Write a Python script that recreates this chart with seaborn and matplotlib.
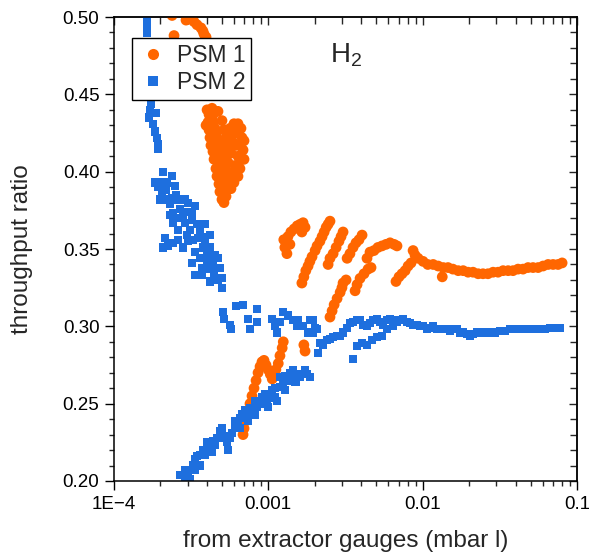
import numpy as np
import pandas as pd
import matplotlib
matplotlib.use("Agg")
import matplotlib.pyplot as plt
from matplotlib.lines import Line2D
from matplotlib.ticker import (MultipleLocator, FixedLocator, FixedFormatter,
                               LogLocator, NullFormatter, FormatStrFormatter)
import seaborn as sns

# ---------------------------------------------------------------------------
# Throughput ratio vs. flow measured by the extractor gauges (H2)
# ---------------------------------------------------------------------------

# PSM 1 -- near-vertical clusters at low flow
psm1_top_x = [2.38e-4, 2.45e-4, 2.93e-4, 3.11e-4, 3.30e-4, 3.45e-4, 3.66e-4, 3.77e-4, 3.83e-4, 3.95e-4]
psm1_top_y = [0.501, 0.488, 0.498, 0.499, 0.497, 0.495, 0.493, 0.491, 0.489, 0.487]

psm1_a_x = [4.32e-4, 4.13e-4, 4.45e-4, 4.07e-4, 4.38e-4, 4.13e-4, 4.51e-4, 4.19e-4, 4.58e-4, 4.25e-4,
            4.65e-4, 4.38e-4, 4.72e-4, 4.45e-4, 4.79e-4, 4.58e-4, 4.94e-4, 4.65e-4, 5.01e-4, 4.79e-4,
            5.16e-4, 4.86e-4, 5.09e-4, 5.01e-4, 5.16e-4,
            5.65e-4, 5.99e-4, 6.36e-4, 6.65e-4, 5.56e-4, 6.17e-4, 6.75e-4, 5.40e-4, 5.90e-4, 6.55e-4,
            6.86e-4, 5.24e-4, 5.73e-4, 6.36e-4, 6.75e-4, 5.48e-4, 6.08e-4, 6.55e-4, 5.32e-4, 5.82e-4,
            6.36e-4, 5.56e-4, 5.99e-4,
            4.72e-4, 5.01e-4, 5.16e-4, 4.94e-4, 5.32e-4, 5.09e-4, 5.48e-4, 4.86e-4, 5.24e-4, 5.01e-4,
            5.32e-4, 4.32e-4, 4.01e-4, 3.95e-4, 5.90e-4, 6.96e-4, 6.96e-4, 6.17e-4, 5.73e-4, 5.32e-4]
psm1_a_y = [0.441, 0.437, 0.438, 0.432, 0.432, 0.427, 0.428, 0.422, 0.424, 0.417,
            0.419, 0.413, 0.414, 0.408, 0.409, 0.402, 0.404, 0.397, 0.399, 0.392,
            0.395, 0.387, 0.388, 0.382, 0.380,
            0.428, 0.431, 0.431, 0.428, 0.422, 0.425, 0.422, 0.416, 0.419, 0.417,
            0.414, 0.411, 0.412, 0.410, 0.408, 0.406, 0.404, 0.402, 0.401, 0.399,
            0.397, 0.395, 0.393,
            0.439, 0.433, 0.427, 0.420, 0.422, 0.414, 0.413, 0.409, 0.406, 0.395,
            0.391, 0.435, 0.440, 0.430, 0.428, 0.420, 0.408, 0.417, 0.389, 0.384]

# PSM 1 -- rising branch below 0.29
psm1_b_x = [6.86e-4, 6.96e-4, 7.17e-4, 7.39e-4, 7.61e-4, 7.84e-4, 8.08e-4, 8.33e-4, 8.58e-4, 8.84e-4,
            9.10e-4, 9.38e-4, 9.66e-4, 9.96e-4, 1.03e-3, 1.06e-3, 1.09e-3, 1.12e-3, 1.16e-3, 1.19e-3,
            1.23e-3, 1.25e-3, 1.70e-3, 1.73e-3]
psm1_b_y = [0.230, 0.234, 0.239, 0.245, 0.250, 0.255, 0.260, 0.265, 0.270, 0.274,
            0.277, 0.278, 0.275, 0.272, 0.269, 0.266, 0.268, 0.272, 0.276, 0.281,
            0.286, 0.290, 0.288, 0.284]

# PSM 1 -- sawtooth region between 1e-3 and 1e-2
psm1_c_x = [1.26e-3, 1.28e-3, 1.32e-3, 1.34e-3, 1.40e-3, 1.47e-3, 1.54e-3, 1.61e-3, 1.68e-3, 1.73e-3, 1.65e-3, 1.38e-3,
            1.65e-3, 1.70e-3, 1.75e-3, 1.81e-3, 1.86e-3, 1.92e-3, 2.01e-3, 2.07e-3, 2.16e-3, 2.23e-3, 2.30e-3, 2.37e-3, 2.44e-3, 2.51e-3,
            2.44e-3, 2.51e-3, 2.63e-3, 2.75e-3, 2.87e-3, 2.96e-3, 3.05e-3,
            3.24e-3, 3.38e-3, 3.54e-3, 3.70e-3, 3.87e-3, 4.05e-3,
            4.36e-3, 4.56e-3, 4.84e-3, 5.13e-3, 5.45e-3, 5.79e-3, 6.15e-3, 6.53e-3, 6.82e-3,
            2.51e-3, 2.59e-3, 2.67e-3, 2.79e-3, 2.92e-3, 3.05e-3, 3.19e-3, 3.00e-3, 3.65e-3, 3.76e-3, 3.93e-3, 4.17e-3, 4.43e-3, 4.63e-3,
            6.72e-3, 7.03e-3, 7.35e-3, 7.70e-3, 8.05e-3, 8.41e-3, 8.67e-3, 8.93e-3]
psm1_c_y = [0.356, 0.351, 0.347, 0.358, 0.361, 0.363, 0.365, 0.366, 0.367, 0.364, 0.361, 0.353,
            0.328, 0.332, 0.336, 0.339, 0.342, 0.345, 0.349, 0.352, 0.355, 0.358, 0.361, 0.364, 0.366, 0.368,
            0.340, 0.344, 0.347, 0.351, 0.355, 0.358, 0.361,
            0.344, 0.347, 0.351, 0.354, 0.356, 0.359,
            0.344, 0.348, 0.349, 0.351, 0.352, 0.353, 0.354, 0.353, 0.352,
            0.306, 0.310, 0.314, 0.318, 0.322, 0.328, 0.330, 0.325, 0.323, 0.327, 0.331, 0.334, 0.337, 0.338,
            0.329, 0.332, 0.334, 0.336, 0.339, 0.341, 0.349, 0.346]

# PSM 1 -- plateau at high flow
psm1_d_x = [9.34e-3, 1.006e-2, 1.08e-2, 1.17e-2, 1.26e-2, 1.36e-2, 1.34e-2, 1.46e-2, 1.57e-2, 1.70e-2,
            1.83e-2, 1.97e-2, 2.12e-2, 2.29e-2, 2.46e-2, 2.65e-2, 2.86e-2, 3.08e-2, 3.32e-2, 3.58e-2,
            3.85e-2, 4.15e-2, 4.47e-2, 4.82e-2, 5.19e-2, 5.60e-2, 6.03e-2, 6.50e-2, 7.00e-2, 7.54e-2, 8.01e-2]
psm1_d_y = [0.344, 0.342, 0.340, 0.340, 0.339, 0.338, 0.332, 0.338, 0.337, 0.336,
            0.336, 0.335, 0.335, 0.334, 0.334, 0.334, 0.335, 0.335, 0.336, 0.336,
            0.336, 0.337, 0.337, 0.338, 0.338, 0.338, 0.339, 0.340, 0.340, 0.340, 0.341]

# PSM 2 -- steep column at the lowest flows
psm2_a_x = [1.64e-4, 1.64e-4, 1.64e-4, 1.66e-4, 1.69e-4, 1.71e-4, 1.74e-4, 1.71e-4, 1.69e-4, 1.87e-4,
            1.79e-4, 1.84e-4, 1.90e-4, 1.93e-4, 1.93e-4]
psm2_a_y = [0.498, 0.494, 0.490, 0.479, 0.466, 0.453, 0.444, 0.440, 0.435, 0.438,
            0.431, 0.426, 0.422, 0.418, 0.415]

# PSM 2 -- scattered cluster between 0.33 and 0.40
psm2_b_x = [1.84e-4, 2.08e-4, 2.38e-4, 1.99e-4, 2.05e-4, 1.99e-4, 2.14e-4, 2.31e-4, 2.38e-4, 2.68e-4,
            3.02e-4, 3.20e-4, 2.41e-4, 2.31e-4, 2.80e-4, 2.89e-4, 2.41e-4, 3.20e-4, 3.11e-4, 3.61e-4,
            3.89e-4, 4.19e-4, 2.14e-4, 2.08e-4, 2.41e-4, 2.80e-4, 3.25e-4, 3.77e-4, 3.35e-4, 4.01e-4,
            4.51e-4, 4.19e-4, 3.20e-4, 4.01e-4, 4.32e-4, 4.86e-4, 3.35e-4, 3.72e-4, 4.19e-4, 5.01e-4,
            5.01e-4, 4.65e-4, 3.61e-4, 2.97e-4, 2.60e-4, 2.17e-4, 2.52e-4, 2.89e-4, 3.50e-4, 3.95e-4,
            4.45e-4,
            1.93e-4, 2.21e-4, 2.48e-4, 2.60e-4, 2.89e-4, 3.35e-4, 2.60e-4, 3.45e-4, 3.89e-4, 2.24e-4,
            2.60e-4, 3.02e-4, 3.89e-4, 4.38e-4, 4.72e-4, 4.72e-4, 3.72e-4]
psm2_b_y = [0.393, 0.400, 0.397, 0.393, 0.386, 0.382, 0.382, 0.379, 0.383, 0.376,
            0.380, 0.374, 0.373, 0.372, 0.371, 0.367, 0.367, 0.369, 0.362, 0.362,
            0.358, 0.359, 0.357, 0.351, 0.354, 0.351, 0.356, 0.351, 0.348, 0.346,
            0.346, 0.351, 0.341, 0.341, 0.338, 0.338, 0.333, 0.333, 0.329, 0.331,
            0.325, 0.338, 0.344, 0.359, 0.362, 0.388, 0.385, 0.374, 0.357, 0.337,
            0.333,
            0.390, 0.393, 0.391, 0.382, 0.382, 0.378, 0.370, 0.366, 0.366, 0.352,
            0.356, 0.355, 0.353, 0.342, 0.344, 0.330, 0.338]

# PSM 2 -- points around 0.30 between 5e-4 and 2e-3
psm2_c_x = [5.09e-4, 5.16e-4, 5.65e-4, 5.73e-4, 6.17e-4, 6.86e-4, 7.39e-4, 7.61e-4, 8.45e-4, 8.45e-4,
            1.06e-3, 1.14e-3, 1.10e-3, 1.25e-3, 1.34e-3, 1.45e-3, 1.54e-3, 1.56e-3, 1.68e-3, 1.81e-3,
            1.86e-3, 1.95e-3, 2.01e-3, 2.07e-3, 1.95e-3, 1.19e-3, 2.10e-3]
psm2_c_y = [0.309, 0.305, 0.301, 0.298, 0.313, 0.314, 0.305, 0.298, 0.311, 0.303,
            0.305, 0.296, 0.300, 0.309, 0.307, 0.304, 0.300, 0.304, 0.300, 0.296,
            0.304, 0.304, 0.299, 0.298, 0.296, 0.303, 0.283]

# PSM 2 -- band rising to the 0.30 plateau
psm2_d_x = [2.16e-3, 2.26e-3, 2.40e-3, 2.51e-3, 2.63e-3, 2.79e-3, 2.92e-3, 3.05e-3, 3.24e-3, 3.38e-3,
            3.54e-3, 3.76e-3, 3.93e-3, 4.11e-3, 4.36e-3, 4.56e-3, 4.77e-3, 5.06e-3, 5.30e-3, 5.54e-3,
            5.88e-3, 6.15e-3, 6.43e-3, 6.82e-3, 7.14e-3, 7.46e-3, 7.96e-3, 8.29e-3, 8.67e-3, 9.20e-3,
            9.62e-3, 1.006e-2, 1.07e-2, 1.12e-2, 1.17e-2, 1.24e-2, 1.30e-2, 1.36e-2, 1.44e-2, 1.50e-2,
            1.57e-2, 1.67e-2, 1.75e-2, 1.83e-2, 1.94e-2, 2.03e-2, 2.12e-2, 2.25e-2, 2.35e-2, 2.46e-2,
            2.61e-2, 2.73e-2, 2.94e-2, 3.17e-2, 3.42e-2, 3.69e-2, 3.97e-2, 4.28e-2, 4.61e-2, 4.97e-2,
            5.35e-2, 5.77e-2, 6.21e-2, 6.69e-2, 7.21e-2, 7.77e-2,
            3.54e-3, 3.76e-3, 4.05e-3, 4.36e-3, 4.70e-3, 5.06e-3, 5.45e-3, 5.88e-3, 6.43e-3]
psm2_d_y = [0.289, 0.288, 0.291, 0.292, 0.293, 0.294, 0.294, 0.296, 0.299, 0.302,
            0.303, 0.304, 0.304, 0.301, 0.300, 0.302, 0.304, 0.305, 0.303, 0.301,
            0.304, 0.305, 0.304, 0.303, 0.304, 0.305, 0.303, 0.302, 0.301, 0.301,
            0.300, 0.300, 0.298, 0.299, 0.300, 0.298, 0.298, 0.298, 0.298, 0.297,
            0.298, 0.298, 0.296, 0.296, 0.295, 0.294, 0.295, 0.296, 0.296, 0.296,
            0.296, 0.296, 0.296, 0.297, 0.297, 0.298, 0.298, 0.298, 0.298, 0.298,
            0.298, 0.298, 0.298, 0.299, 0.299, 0.299,
            0.279, 0.287, 0.289, 0.288, 0.291, 0.293, 0.294, 0.298, 0.300]

# PSM 2 -- lower branch climbing from 0.20
psm2_e_x = [2.68e-4, 2.89e-4, 3.11e-4, 3.02e-4, 3.25e-4, 3.35e-4, 3.45e-4, 3.61e-4, 3.77e-4, 4.01e-4,
            4.19e-4, 4.38e-4, 4.65e-4, 4.86e-4, 5.01e-4, 5.24e-4, 5.40e-4, 5.48e-4, 5.65e-4, 5.82e-4,
            6.08e-4, 6.36e-4, 6.55e-4, 6.75e-4, 7.07e-4, 7.39e-4, 7.61e-4, 7.96e-4, 8.45e-4, 8.84e-4,
            9.24e-4, 9.81e-4, 1.03e-3, 1.06e-3, 1.10e-3, 1.14e-3, 1.19e-3, 1.25e-3, 1.32e-3, 1.38e-3,
            1.45e-3, 1.54e-3, 1.61e-3, 1.68e-3, 1.78e-3, 1.86e-3,
            3.35e-4, 3.89e-4, 4.51e-4, 7.07e-4, 8.20e-4, 9.52e-4, 1.28e-3,
            3.61e-4, 4.32e-4, 6.55e-4, 8.20e-4, 9.96e-4, 1.28e-3, 1.50e-3,
            2.89e-4, 4.01e-4, 5.01e-4, 6.08e-4, 7.61e-4, 9.10e-4, 1.10e-3, 1.19e-3, 1.45e-3, 1.73e-3]
psm2_e_y = [0.204, 0.202, 0.201, 0.206, 0.210, 0.214, 0.216, 0.217, 0.220, 0.221,
            0.225, 0.226, 0.228, 0.232, 0.234, 0.229, 0.225, 0.220, 0.228, 0.231,
            0.234, 0.237, 0.241, 0.243, 0.241, 0.239, 0.243, 0.246, 0.248, 0.250,
            0.251, 0.252, 0.256, 0.259, 0.254, 0.252, 0.261, 0.264, 0.265, 0.270,
            0.272, 0.269, 0.267, 0.269, 0.269, 0.267,
            0.207, 0.217, 0.223, 0.246, 0.252, 0.256, 0.268,
            0.210, 0.219, 0.234, 0.243, 0.248, 0.259, 0.264,
            0.207, 0.225, 0.228, 0.239, 0.247, 0.254, 0.260, 0.267, 0.267, 0.272]

SERIES = ["PSM 1", "PSM 2"]
ORANGE = "#FF6600"
BLUE = "#1E6FDE"

psm1 = pd.DataFrame({
    "x": psm1_top_x + psm1_a_x + psm1_b_x + psm1_c_x + psm1_d_x,
    "y": psm1_top_y + psm1_a_y + psm1_b_y + psm1_c_y + psm1_d_y,
})
psm1["series"] = SERIES[0]
psm2 = pd.DataFrame({
    "x": psm2_a_x + psm2_b_x + psm2_c_x + psm2_d_x + psm2_e_x,
    "y": psm2_a_y + psm2_b_y + psm2_c_y + psm2_d_y + psm2_e_y,
})
psm2["series"] = SERIES[1]
df = pd.concat([psm1, psm2], ignore_index=True)

sns.set_style("ticks")
plt.rcParams["font.family"] = ["Liberation Sans", "DejaVu Sans"]
plt.rcParams["mathtext.fontset"] = "custom"
plt.rcParams["mathtext.rm"] = "Liberation Sans"
plt.rcParams["mathtext.it"] = "Liberation Sans:italic"

fig = plt.figure(figsize=(5.89, 5.58), dpi=100)
ax = fig.add_axes([0.1935, 0.138, 0.7861, 0.8315])

sns.scatterplot(data=df, x="x", y="y", hue="series", style="series", size="series",
                hue_order=SERIES, style_order=SERIES, size_order=SERIES,
                palette={SERIES[0]: ORANGE, SERIES[1]: BLUE},
                markers={SERIES[0]: "o", SERIES[1]: "s"},
                sizes={SERIES[0]: 60, SERIES[1]: 34},
                linewidth=0, alpha=1, legend=False, ax=ax, zorder=2)

ax.set_xscale("log")
ax.set_xlim(1e-4, 0.1)
ax.set_ylim(0.20, 0.50)

# axis ticks: outward on bottom/left, inward on top/right
xt = [1e-4, 1e-3, 1e-2, 1e-1]
xtl = ["1E\u22124", "0.001", "0.01", "0.1"]
ax.xaxis.set_major_locator(FixedLocator(xt))
ax.xaxis.set_major_formatter(FixedFormatter(xtl))
ax.xaxis.set_minor_locator(LogLocator(base=10, subs=np.arange(2, 10)))
ax.xaxis.set_minor_formatter(NullFormatter())
ax.yaxis.set_major_locator(MultipleLocator(0.05))
ax.yaxis.set_minor_locator(MultipleLocator(0.01))
ax.yaxis.set_major_formatter(FormatStrFormatter("%.2f"))

ax.tick_params(which="major", direction="out", length=6.5, width=1.0, labelsize=13.5, pad=4,
               colors="black", top=False, right=False)
ax.tick_params(which="minor", direction="out", length=3.5, width=1.0, top=False, right=False)
for sp in ax.spines.values():
    sp.set_visible(True)
    sp.set_linewidth(1.1)
    sp.set_color("black")

secx = ax.secondary_xaxis("top")
secx.xaxis.set_major_locator(FixedLocator(xt))
secx.xaxis.set_minor_locator(LogLocator(base=10, subs=np.arange(2, 10)))
secx.tick_params(which="major", direction="in", length=6, width=1.0, labeltop=False)
secx.tick_params(which="minor", direction="in", length=5, width=1.0)
secx.spines["top"].set_linewidth(1.1)

secy = ax.secondary_yaxis("right")
secy.yaxis.set_major_locator(MultipleLocator(0.05))
secy.yaxis.set_minor_locator(MultipleLocator(0.01))
secy.tick_params(which="major", direction="in", length=6, width=1.0, labelright=False)
secy.tick_params(which="minor", direction="in", length=5, width=1.0)
secy.spines["right"].set_linewidth(1.1)

ax.set_xlabel("from extractor gauges (mbar l)", fontsize=17.5)
ax.set_ylabel("throughput ratio", fontsize=17.5)
ax.xaxis.set_label_coords(0.5, -0.105)
ax.yaxis.set_label_coords(-0.175, 0.5)

ax.text(0.4665, 0.903, "H$_2$", transform=ax.transAxes, fontsize=20,
        ha="left", va="baseline")

handles = [Line2D([], [], marker="o", ls="", color=ORANGE, markersize=8, markeredgewidth=0),
           Line2D([], [], marker="s", ls="", color=BLUE, markersize=7, markeredgewidth=0)]
leg = ax.legend(handles, SERIES, loc="upper left", bbox_to_anchor=(0.039, 0.955),
                borderaxespad=0, frameon=True, fancybox=False, framealpha=1,
                edgecolor="black", facecolor="white", fontsize=16.5,
                borderpad=0.25, handletextpad=0.4, handlelength=1.3, labelspacing=0.2)
leg.get_frame().set_linewidth(1.0)
leg.set_zorder(5)

fig.savefig("out.png", dpi=100)
